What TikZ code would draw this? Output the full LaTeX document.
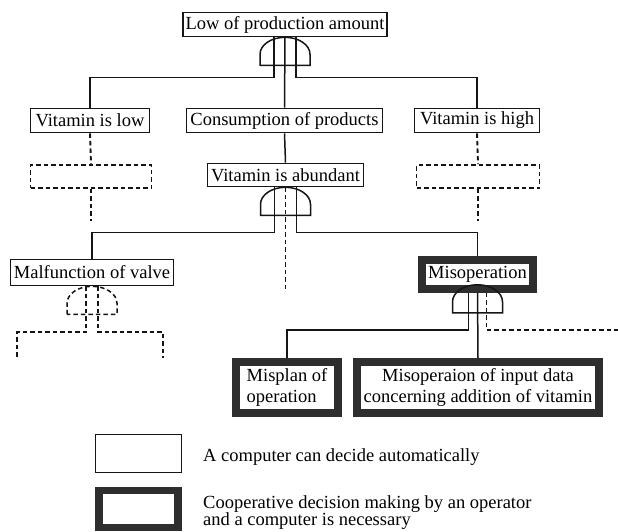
\documentclass[tikz,border=0pt]{standalone}
\usepackage{fontspec}
\setmainfont{Liberation Serif}
\usetikzlibrary{positioning,calc}
\definecolor{cK}{HTML}{151515}
\definecolor{cG}{HTML}{2e2e2e}
\tikzset{
  evt/.style={draw=cK,line width=1.6pt,fill=white,inner sep=0pt,align=center,
              font=\fontsize{18.5}{21.5}\selectfont},
  coop/.style={draw=cG,line width=7.5pt,fill=white,inner sep=0pt,align=center,
              font=\fontsize{18.5}{21.5}\selectfont},
  dbox/.style={draw=cK,line width=1.9pt,dash pattern=on 4.5pt off 3pt,inner sep=0pt},
  wire/.style={cK,line width=1.5pt},
  dwire/.style={cK,line width=1.9pt,dash pattern=on 4.5pt off 3pt},
  gate/.pic={\draw[cK,line width=1.5pt,pic actions] (-25pt,-28pt) -- (-25pt,-17pt)
      arc[start angle=180,end angle=0,x radius=25pt,y radius=17pt] -- (25pt,-28pt) -- cycle;},
  lgd/.style={anchor=west,align=left,inner sep=0pt,font=\fontsize{18.5}{16}\selectfont},
}

\begin{document}
\begin{tikzpicture}[x=1pt,y=-1pt]
  \useasboundingbox (0,0) rectangle (618,532);
  % events
  \node[evt,minimum width=204pt,minimum height=24pt] (low) at (285,24.5) {Low of production amount};
  \node[evt,minimum width=119pt,minimum height=24pt] (vlow) at (90,120.5) {Vitamin is low};
  \node[evt,minimum width=196pt,minimum height=24pt] (cons) at (284.5,120.5) {Consumption of products};
  \node[evt,minimum width=125pt,minimum height=24pt] (vhigh) at (477,120.5) {Vitamin is high};
  \node[dbox,minimum width=121pt,minimum height=23pt] (dl) at (91,176.5) {};
  \node[dbox,minimum width=123pt,minimum height=23pt] (dr) at (478,176.5) {};
  \node[evt,minimum width=156pt,minimum height=23pt] (abund) at (285.5,175) {Vitamin is abundant};
  \node[evt,minimum width=163pt,minimum height=26pt] (malf) at (92,272.5) {Malfunction of valve};
  \node[coop,minimum width=111pt,minimum height=29pt] (misop) at (477.5,274.5) {Misoperation};
  \node[coop,minimum width=102pt,minimum height=51pt,align=left] (misplan) at (287,387.5) {Misplan of\\operation};
  \node[coop,minimum width=242pt,minimum height=51pt] (misinp) at (478,387.5)
       {Misoperaion of input data\\concerning addition of vitamin};

  % top and-gate
  \pic at (low.south) {gate};
  \draw[wire] (low.south) -- (cons.north);
  \draw[wire] ([xshift=-11pt]low.south) -- ++(0,40) -| (vlow.north);
  \draw[wire] ([xshift=11pt]low.south) -- ++(0,40) -| (vhigh.north);
  \foreach \s/\t in {vlow/dl,vhigh/dr}{
    \draw[dwire] (\s.south) -- (\t.north);
    \draw[dwire] (\t.south) -- ++(0,32);}
  \draw[wire] (cons.south) -- (abund.north);

  % vitamin is abundant
  \pic at (abund.south) {gate};
  \draw[wire] ([xshift=-11pt]abund.south) -- ++(0,45) -| (malf.north);
  \draw[wire] ([xshift=11pt]abund.south) -- ++(0,45) -| (misop.north);
  \draw[dwire] (abund.south) -- ++(0,102);

  % malfunction of valve (not expanded)
  \coordinate (ml) at (17,358);
  \coordinate (mr) at (163,358);
  \pic[dash pattern=on 4.5pt off 3pt] at (malf.south) {gate};
  \draw[dwire] ([xshift=-6pt]malf.south) -- ++(0,46) -| (ml);
  \draw[dwire] ([xshift=6pt]malf.south) -- ++(0,46) -| (mr);

  % misoperation
  \coordinate (edge) at (618,330);
  \pic at ([yshift=8pt]misop.south) {gate};
  \draw[wire] ([xshift=-9pt]misop.south) -- ++(0,37) -| (misplan.north);
  \draw[wire] (misop.south) -- (misinp.north);
  \draw[dwire] ([xshift=9pt]misop.south) |- (edge);

  % legend
  \node[evt,minimum width=86pt,minimum height=38pt] (lthin) at (138.5,453.5) {};
  \node[coop,minimum width=79pt,minimum height=37pt] (lthick) at (138.5,509) {};
  \node[lgd] (tthin) at (203,457) {A computer can decide automatically};
  \node[lgd] (tthick) at (203,512.5) {Cooperative decision making by an operator\\and a computer is necessary};
\end{tikzpicture}
\end{document}
